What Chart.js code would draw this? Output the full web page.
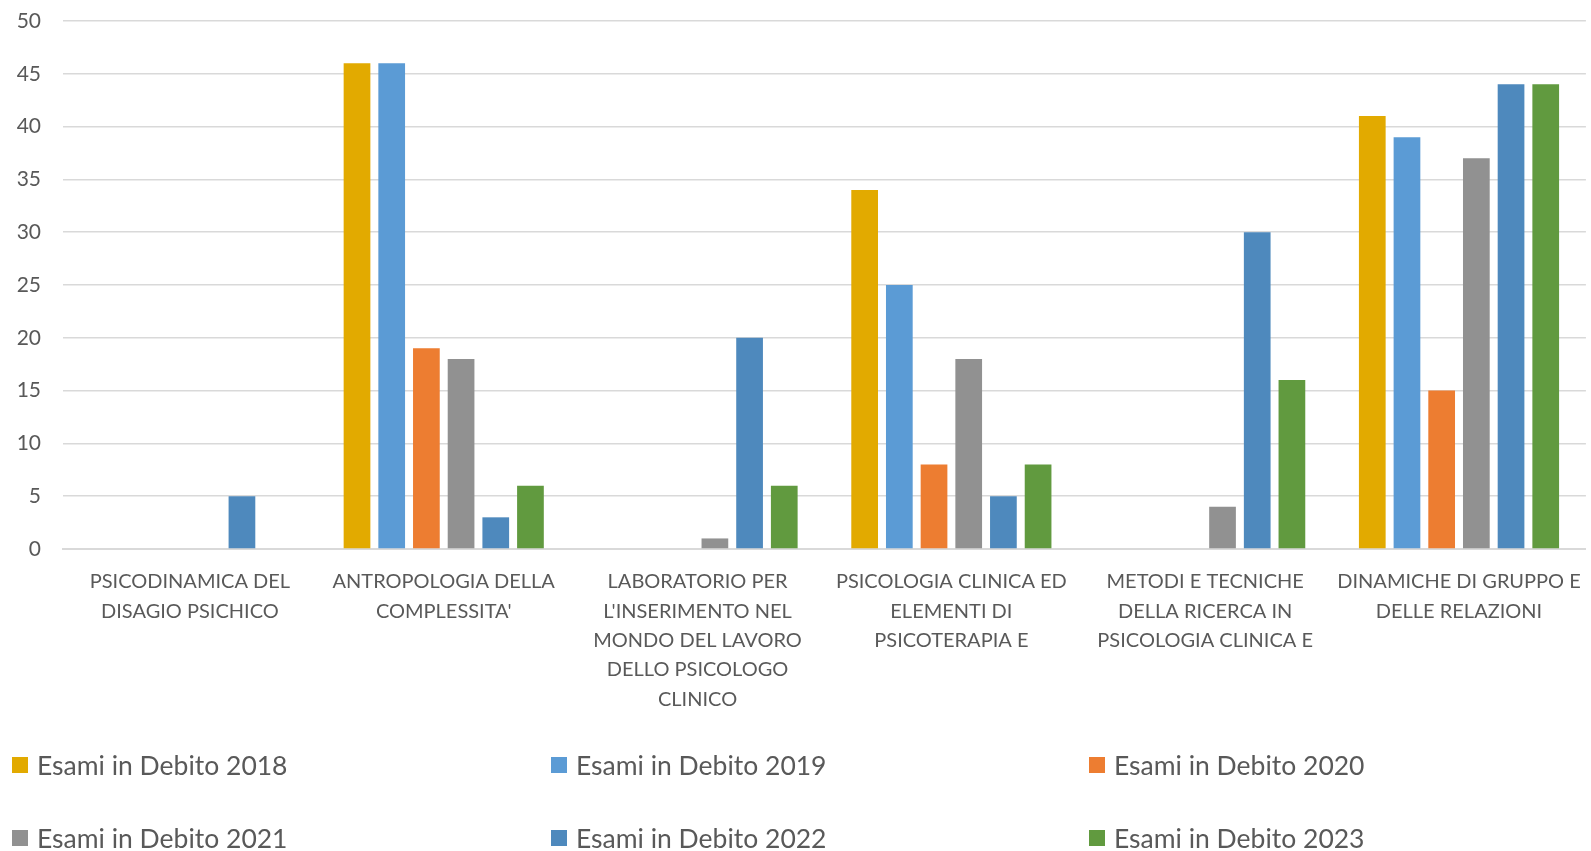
<!DOCTYPE html>
<html>
<head>
<meta charset="utf-8">
<script src="https://cdn.jsdelivr.net/npm/chart.js@4.4.1/dist/chart.umd.min.js"></script>
<style>
    html, body { margin: 0; padding: 0; background: #fff; overflow: hidden; }
    #wrap { width: 1591px; height: 851px; position: relative; }
</style>
</head>
<body>
<div id="wrap"><canvas id="Esami_Chart"></canvas></div>
<script>
// categorie (insegnamenti)
const categories = [
    ['PSICODINAMICA DEL', 'DISAGIO PSICHICO'],
    ['ANTROPOLOGIA DELLA', "COMPLESSITA'"],
    ['LABORATORIO PER', "L'INSERIMENTO NEL", 'MONDO DEL LAVORO', 'DELLO PSICOLOGO', 'CLINICO'],
    ['PSICOLOGIA CLINICA ED', 'ELEMENTI DI', 'PSICOTERAPIA E'],
    ['METODI E TECNICHE', 'DELLA RICERCA IN', 'PSICOLOGIA CLINICA E'],
    ['DINAMICHE DI GRUPPO E', 'DELLE RELAZIONI']
];

const seriesNames = [
    'Esami in Debito 2018', 'Esami in Debito 2019', 'Esami in Debito 2020',
    'Esami in Debito 2021', 'Esami in Debito 2022', 'Esami in Debito 2023'
];

const debito2018 = [0, 46, 0, 34, 0, 41];
const debito2019 = [0, 46, 0, 25, 0, 39];
const debito2020 = [0, 19, 0, 8, 0, 15];
const debito2021 = [0, 18, 1, 18, 4, 37];
const debito2022 = [5, 3, 20, 5, 30, 44];
const debito2023 = [0, 6, 6, 8, 16, 44];

const yTicks = [0, 5, 10, 15, 20, 25, 30, 35, 40, 45, 50];

const colors = ['#E2AA00', '#5B9BD5', '#ED7D31', '#919191', '#4E89BD', '#619A3F'];
const allSeries = [debito2018, debito2019, debito2020, debito2021, debito2022, debito2023];

const FONT = 'Lato, Calibri, "Open Sans", sans-serif';

// legenda a 3 colonne, come nell'originale
const gridLegend = {
    id: 'gridLegend',
    afterDraw(chart) {
        const ctx = chart.ctx;
        const cols = [12, 551, 1089];
        const rows = [765, 838];
        ctx.save();
        ctx.font = '26.5px ' + FONT;
        ctx.textBaseline = 'middle';
        ctx.textAlign = 'left';
        chart.data.datasets.forEach((ds, i) => {
            const x = cols[i % 3];
            const y = rows[Math.floor(i / 3)];
            ctx.fillStyle = ds.backgroundColor;
            ctx.fillRect(x, y - 8, 16, 16);
            ctx.fillStyle = '#595959';
            ctx.fillText(ds.label, x + 25, y + 1);
        });
        ctx.restore();
    }
};

const ctx = document.getElementById('Esami_Chart').getContext('2d');

new Chart(ctx, {
    type: 'bar',
    data: {
        labels: categories,
        datasets: allSeries.map((values, i) => ({
            label: seriesNames[i],
            data: values,
            backgroundColor: colors[i],
            borderWidth: 0,
            categoryPercentage: 0.82,
            barPercentage: 0.77
        }))
    },
    options: {
        responsive: true,
        maintainAspectRatio: false,
        animation: false,
        layout: { padding: { top: 0, right: 3, left: 0, bottom: 0 } },
        scales: {
            x: {
                grid: { display: false },
                border: { color: '#d9d9d9', width: 2 },
                ticks: {
                    color: '#595959',
                    font: { family: FONT, size: 20, lineHeight: 1.47 },
                    padding: 10,
                    maxRotation: 0,
                    autoSkip: false
                },
                afterFit(scale) {
                    scale.height = 302;
                    scale.paddingTop = 0;
                    scale.paddingBottom = 0;
                }
            },
            y: {
                min: 0,
                max: 50,
                afterBuildTicks(scale) { scale.ticks = yTicks.map(v => ({ value: v })); },
                grid: { color: '#d9d9d9', lineWidth: 1.5, drawTicks: false },
                border: { display: false },
                ticks: {
                    color: '#595959',
                    font: { family: FONT, size: 21 },
                    padding: 22
                },
                afterFit(scale) {
                    scale.width = 63;
                    scale.paddingTop = 21;
                }
            }
        },
        plugins: {
            legend: { display: false },
            tooltip: { enabled: true }
        }
    },
    plugins: [gridLegend]
});
</script>
</body>
</html>
